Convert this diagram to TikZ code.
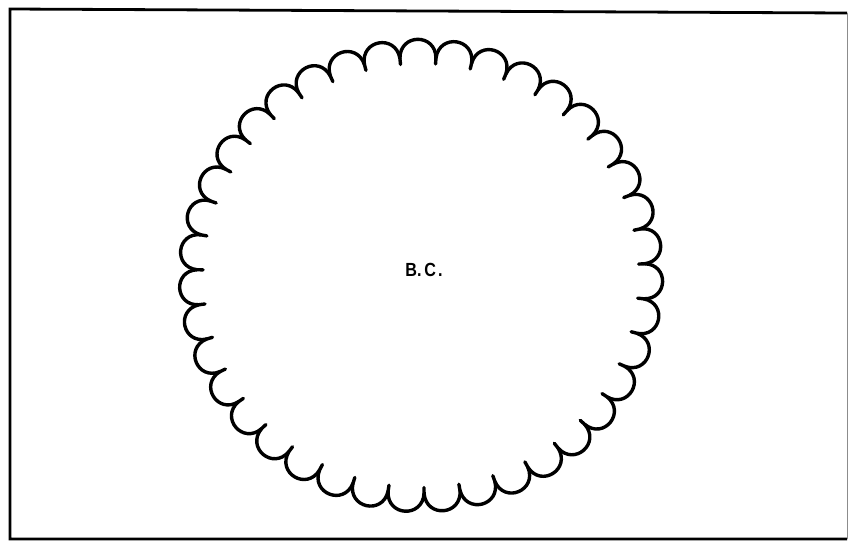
\documentclass[tikz,border=0pt]{standalone}
\usepackage{fontspec}
\setmainfont{Liberation Sans}
\usetikzlibrary{calc}
\begin{document}
\begin{tikzpicture}[x=1pt,y=-1pt,
  frame/.style={line width=2.8pt,black,line join=miter},
  faintedge/.style={line width=1pt,black!45},
  scallop/.style={line width=3.4pt,black,line cap=round,line join=round},
  label/.style={font=\fontsize{19}{19}\selectfont\bfseries,inner sep=0pt}]
\useasboundingbox (0,0) rectangle (849,542);
\coordinate (ctr) at (421,275.5);
\foreach \i in {0,...,39} {
  \pgfmathsetmacro\ta{95.4+\i*360/39}
  \coordinate (c\i) at ({421+224*cos(\ta)},{275.5-218*sin(\ta)});
}
\foreach \i [evaluate=\i as \j using int(\i+1)] in {0,...,38} {
  \draw[scallop] ($(c\i)!6pt!(ctr)$) -- (c\i) .. controls ($(c\i)!0.7!-90:(c\j)$) and ($(c\j)!0.7!90:(c\i)$) .. (c\j);
}
\node[label,xscale=0.85] (bc) at (424,270) {B.\,C\kern2.5pt.};
\coordinate (tl) at (10,9);
\coordinate (tr) at (847,13);
\coordinate (bl) at (10,539);
\coordinate (br) at (847,539);
\draw[frame] (tr) -- (tl) -- (bl) -- (br);
\draw[faintedge] (tr) -- (br);
\end{tikzpicture}
\end{document}
